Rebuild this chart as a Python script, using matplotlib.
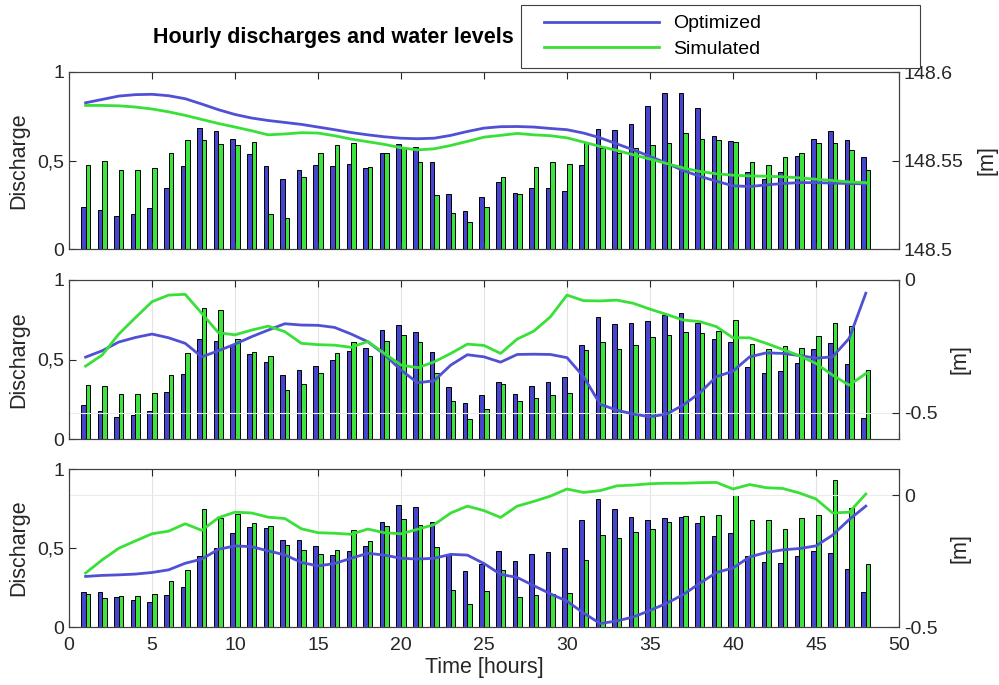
import numpy as np
import matplotlib
matplotlib.use("Agg")
import matplotlib.pyplot as plt
from matplotlib.lines import Line2D
from matplotlib.legend_handler import HandlerLine2D

plt.rcParams['font.family'] = ['Liberation Sans', 'DejaVu Sans']

hours = np.arange(1, 49)

# ---- panel 1: discharges (left) and water levels (right)
q_opt_1 = [0.236, 0.223, 0.189, 0.198, 0.232, 0.347, 0.470, 0.685, 0.666, 0.623,
           0.536, 0.470, 0.394, 0.447, 0.475, 0.470, 0.483, 0.460, 0.545, 0.594,
           0.577, 0.494, 0.313, 0.215, 0.291, 0.379, 0.317, 0.347, 0.347, 0.326,
           0.477, 0.679, 0.670, 0.704, 0.808, 0.879, 0.879, 0.798, 0.640, 0.608,
           0.436, 0.398, 0.436, 0.526, 0.621, 0.668, 0.617, 0.521]
q_sim_1 = [0.475, 0.500, 0.447, 0.447, 0.455, 0.542, 0.613, 0.613, 0.594, 0.589,
           0.602, 0.198, 0.177, 0.404, 0.542, 0.585, 0.600, 0.464, 0.542, 0.572,
           0.489, 0.306, 0.204, 0.153, 0.236, 0.408, 0.311, 0.464, 0.489, 0.483,
           0.602, 0.568, 0.542, 0.568, 0.587, 0.598, 0.655, 0.619, 0.613, 0.602,
           0.494, 0.477, 0.517, 0.545, 0.598, 0.598, 0.557, 0.445]
h_opt_1 = [148.5826, 148.5845, 148.5864, 148.5872, 148.5874, 148.5866, 148.5849, 148.5819,
           148.5787, 148.5760, 148.5740, 148.5726, 148.5715, 148.5704, 148.5689, 148.5674,
           148.5658, 148.5645, 148.5634, 148.5626, 148.5623, 148.5626, 148.5642, 148.5664,
           148.5683, 148.5691, 148.5692, 148.5689, 148.5681, 148.5674, 148.5655, 148.5628,
           148.5594, 148.5560, 148.5523, 148.5485, 148.5443, 148.5411, 148.5383, 148.5357,
           148.5353, 148.5362, 148.5370, 148.5375, 148.5375, 148.5372, 148.5370, 148.5368]
h_sim_1 = [148.5811, 148.5811, 148.5809, 148.5802, 148.5791, 148.5775, 148.5755, 148.5732,
           148.5709, 148.5689, 148.5668, 148.5645, 148.5650, 148.5657, 148.5655, 148.5640,
           148.5621, 148.5606, 148.5591, 148.5572, 148.5560, 148.5566, 148.5585, 148.5608,
           148.5632, 148.5642, 148.5653, 148.5645, 148.5640, 148.5628, 148.5604, 148.5579,
           148.5557, 148.5532, 148.5508, 148.5483, 148.5458, 148.5438, 148.5425, 148.5417,
           148.5413, 148.5411, 148.5408, 148.5402, 148.5394, 148.5387, 148.5379, 148.5375]

# ---- panel 2
q_opt_2 = [0.213, 0.176, 0.140, 0.149, 0.176, 0.293, 0.410, 0.626, 0.615, 0.594,
           0.536, 0.483, 0.400, 0.431, 0.456, 0.494, 0.552, 0.573, 0.684, 0.715,
           0.674, 0.546, 0.324, 0.224, 0.276, 0.356, 0.282, 0.331, 0.356, 0.393,
           0.594, 0.768, 0.722, 0.728, 0.743, 0.778, 0.795, 0.728, 0.626, 0.611,
           0.452, 0.414, 0.425, 0.477, 0.563, 0.605, 0.473, 0.130]
q_sim_2 = [0.341, 0.335, 0.282, 0.282, 0.287, 0.400, 0.542, 0.826, 0.812, 0.626,
           0.546, 0.519, 0.308, 0.345, 0.418, 0.542, 0.611, 0.525, 0.617, 0.657,
           0.607, 0.418, 0.238, 0.123, 0.186, 0.345, 0.241, 0.255, 0.276, 0.287,
           0.559, 0.607, 0.563, 0.590, 0.642, 0.657, 0.676, 0.669, 0.678, 0.747,
           0.600, 0.569, 0.584, 0.575, 0.646, 0.732, 0.711, 0.431]
h_opt_2 = [-0.291, -0.267, -0.234, -0.217, -0.204, -0.218, -0.239, -0.290, -0.267, -0.242,
           -0.214, -0.189, -0.165, -0.170, -0.171, -0.179, -0.204, -0.233, -0.281, -0.340,
           -0.388, -0.380, -0.321, -0.282, -0.290, -0.310, -0.281, -0.280, -0.281, -0.293,
           -0.365, -0.469, -0.491, -0.506, -0.516, -0.506, -0.472, -0.426, -0.365, -0.344,
           -0.290, -0.275, -0.277, -0.285, -0.295, -0.290, -0.220, -0.050]
h_sim_2 = [-0.325, -0.283, -0.204, -0.142, -0.082, -0.057, -0.054, -0.126, -0.199, -0.207,
           -0.189, -0.174, -0.195, -0.239, -0.244, -0.246, -0.254, -0.232, -0.277, -0.321,
           -0.331, -0.309, -0.277, -0.242, -0.247, -0.277, -0.223, -0.193, -0.139, -0.057,
           -0.078, -0.079, -0.076, -0.088, -0.110, -0.130, -0.151, -0.157, -0.176, -0.218,
           -0.218, -0.239, -0.262, -0.286, -0.315, -0.359, -0.397, -0.353]

# ---- panel 3
q_opt_3 = [0.223, 0.223, 0.191, 0.168, 0.160, 0.202, 0.254, 0.450, 0.500, 0.595,
           0.632, 0.626, 0.553, 0.553, 0.511, 0.456, 0.479, 0.515, 0.666, 0.773,
           0.761, 0.666, 0.462, 0.357, 0.399, 0.479, 0.420, 0.462, 0.473, 0.500,
           0.676, 0.813, 0.750, 0.695, 0.676, 0.687, 0.695, 0.660, 0.576, 0.597,
           0.452, 0.410, 0.403, 0.452, 0.483, 0.468, 0.370, 0.223]
q_sim_3 = [0.210, 0.185, 0.197, 0.197, 0.208, 0.292, 0.363, 0.744, 0.687, 0.714,
           0.660, 0.641, 0.521, 0.489, 0.462, 0.489, 0.611, 0.544, 0.639, 0.681,
           0.643, 0.504, 0.235, 0.143, 0.229, 0.363, 0.193, 0.204, 0.206, 0.216,
           0.426, 0.584, 0.563, 0.603, 0.618, 0.666, 0.702, 0.702, 0.708, 0.836,
           0.676, 0.676, 0.618, 0.687, 0.708, 0.929, 0.752, 0.399]
h_opt_3 = [-0.308, -0.304, -0.302, -0.299, -0.293, -0.283, -0.258, -0.242, -0.205, -0.192,
           -0.195, -0.211, -0.226, -0.255, -0.268, -0.259, -0.239, -0.220, -0.227, -0.239,
           -0.242, -0.239, -0.224, -0.227, -0.259, -0.300, -0.312, -0.343, -0.374, -0.402,
           -0.447, -0.487, -0.477, -0.462, -0.437, -0.410, -0.377, -0.334, -0.293, -0.276,
           -0.234, -0.217, -0.207, -0.202, -0.192, -0.151, -0.092, -0.041]
h_sim_3 = [-0.295, -0.245, -0.201, -0.173, -0.146, -0.136, -0.108, -0.133, -0.085, -0.064,
           -0.067, -0.083, -0.088, -0.127, -0.142, -0.144, -0.148, -0.128, -0.142, -0.146,
           -0.129, -0.111, -0.067, -0.041, -0.058, -0.084, -0.041, -0.023, -0.003, 0.024,
           0.011, 0.018, 0.036, 0.039, 0.044, 0.046, 0.046, 0.048, 0.049, 0.024,
           0.041, 0.029, 0.026, 0.009, -0.014, -0.067, -0.064, 0.005]

panels = [
    (q_opt_1, q_sim_1, h_opt_1, h_sim_1, (148.5, 148.6), [148.5, 148.55, 148.6], ['148.5', '148.55', '148.6']),
    (q_opt_2, q_sim_2, h_opt_2, h_sim_2, (-0.6, 0.0), [-0.5, 0.0], ['-0.5', '0']),
    (q_opt_3, q_sim_3, h_opt_3, h_sim_3, (-0.5, 0.1), [-0.5, 0.0], ['-0.5', '0']),
]

# axes rectangles in pixels (left, top, right, bottom)
W, H = 999, 685
boxes = [(69, 72, 899, 249), (69, 280, 899, 439), (69, 469, 899, 627)]

bar_blue = '#4545cf'
bar_green = '#3ee43e'
line_blue = '#5050d4'
line_green = '#38e038'
txt = '#262626'
spine = '#404040'

fig = plt.figure(figsize=(W / 100, H / 100), dpi=100)

bw = 0.28
for i, (qo, qs, ho, hs, rlim, rticks, rlabels) in enumerate(panels):
    l, t, r, b = boxes[i]
    ax = fig.add_axes([l / W, 1 - b / H, (r - l) / W, (b - t) / H])
    ax.bar(hours - bw / 2, qo, width=bw, color=bar_blue, edgecolor='black', linewidth=0.7)
    ax.bar(hours + bw / 2, qs, width=bw, color=bar_green, edgecolor='black', linewidth=0.7)
    ax.set_xlim(0, 50)
    ax.set_ylim(0, 1)
    ax.set_xticks(np.arange(0, 51, 5))
    ax.set_yticks([0, 0.5, 1])
    ax.set_yticklabels(['0', '0,5', '1'])
    ax.set_ylabel('Discharge', fontsize=15.5, color=txt, labelpad=6)
    ax.tick_params(direction='in', length=5, width=0.8, labelsize=14, colors=txt,
                   top=True, right=True)
    ax.tick_params(axis='x', pad=7)
    for s in ax.spines.values():
        s.set_color(spine)
        s.set_linewidth(0.8)
    if i < 2:
        ax.set_xticklabels([])
    else:
        ax.set_xlabel('Time [hours]', fontsize=15.5, color=txt, labelpad=2)
    if i > 0:
        ax.xaxis.grid(True, color='#e3e3e3', linewidth=0.8)
        ax.set_axisbelow(True)

    ax2 = ax.twinx()
    ax2.plot(hours, ho, color=line_blue, linewidth=2, label='Optimized')
    ax2.plot(hours, hs, color=line_green, linewidth=2, label='Simulated')
    ax2.set_ylim(*rlim)
    ax2.set_yticks(rticks)
    ax2.set_yticklabels(rlabels)
    ax2.set_ylabel('[m]', fontsize=15.5, color=txt, labelpad=9)
    ax2.tick_params(direction='in', length=5, width=0.8, labelsize=14, colors=txt)
    for s in ax2.spines.values():
        s.set_color(spine)
        s.set_linewidth(0.8)
    if i > 0:
        ax2.yaxis.grid(True, color='#ececec', linewidth=0.8)
    if i == 0:
        handles, labels = ax2.get_legend_handles_labels()

fig.text(333 / W, 1 - 38 / H, 'Hourly discharges and water levels', ha='center', va='center',
         fontsize=15.5, fontweight='bold', color='black')

leg = fig.legend(handles, labels, loc='upper left',
                 bbox_to_anchor=(521 / W, 1 - 63 / H, 399 / W, 58 / H), mode='expand',
                 borderaxespad=0, fancybox=False, framealpha=1, handlelength=6.6,
                 fontsize=14, edgecolor='#404040', borderpad=0.5, labelspacing=0.42,
                 handletextpad=0.7, handler_map={Line2D: HandlerLine2D(xpad=0.7)})
leg.get_frame().set_linewidth(0.8)

fig.savefig('out.png', dpi=100)
